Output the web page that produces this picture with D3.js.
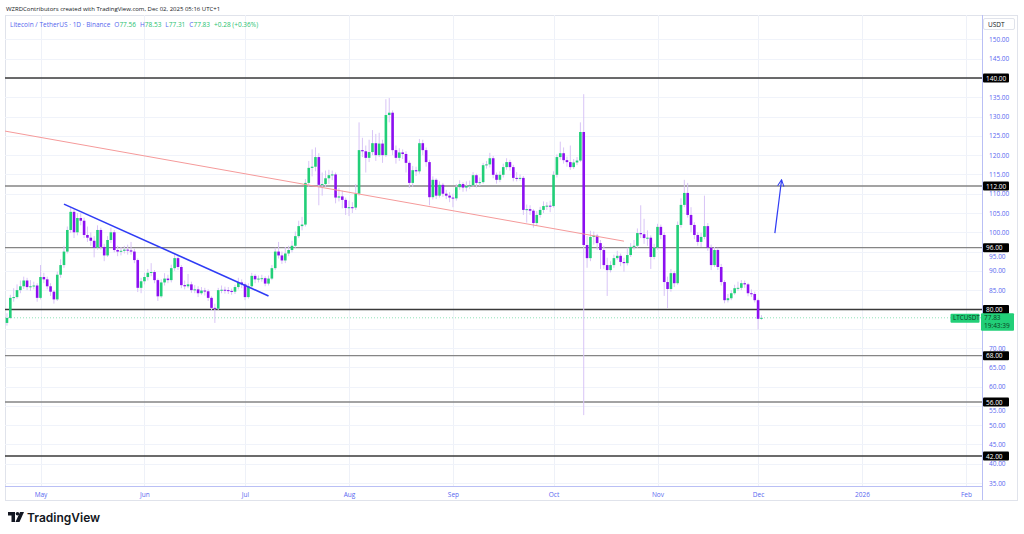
<!DOCTYPE html>
<html>
<head>
<meta charset="utf-8">
<script src="https://cdn.jsdelivr.net/npm/d3@7"></script>
<style>
  html, body { margin: 0; padding: 0; background: #fff; }
  svg { display: block; font-family: "Open Sans", "Noto Sans", sans-serif; }
</style>
</head>
<body>
<script>
// daily candles LTC/USDT, first candle 2025-04-21, one per day
var firstDay = Date.UTC(2025, 3, 21);
var firstOpen = 76.5;

var closes = [
  77.8, 83, 83.2, 85, 86, 87.5, 85.8, 86, 86.2, 83,
  88.4, 87.8, 86, 84.6, 82.6, 89, 91.5, 95, 100.6, 105.3,
  100, 103.7, 103, 99.3, 98.6, 97.8, 96, 100.6, 96.2, 94,
  98, 100, 95.4, 95, 95.2, 95.5, 95.3, 95, 92.8, 85.6,
  87.3, 88.4, 89.5, 89.7, 87.6, 83.4, 87, 88, 87.6, 90.7,
  93.3, 91, 86.3, 86, 86.5, 85, 85.2, 84.2, 84.9, 84.7,
  83, 80.4, 80.2, 85, 85.1, 85, 84.8, 84.6, 85.8, 87,
  86.5, 83.2, 86, 88.7, 87.8, 88, 88.1, 86.7, 88, 90.7,
  95, 94, 92.7, 94.5, 95.4, 96.5, 99, 101.6, 102, 112.8,
  116.7, 117, 119.5, 112.3, 112.5, 114, 114.8, 115, 109, 109.3,
  108.4, 106.3, 106.5, 106.4, 110, 121.3, 121, 119.3, 120.8, 123.1,
  120, 123, 120, 130.4, 131, 121.3, 119.3, 120.7, 120.3, 118,
  112.8, 116.1, 115.8, 123.1, 121.3, 118.2, 109.1, 113.6, 109.5, 112.3,
  110, 109.5, 109, 108.8, 111.7, 112.5, 111.6, 112, 112.2, 114.8,
  112.8, 113, 117.4, 117.6, 119.2, 114.9, 113.6, 114.9, 116.9, 118.2,
  116.9, 114.1, 114, 114.1, 105.8, 106, 105.6, 102.4, 104.5, 105.8,
  106.8, 106.9, 106.8, 114.9, 119.5, 120.5, 118.7, 118.2, 116.9, 118.1,
  118.6, 126, 96.7, 93.3, 98.8, 99.1, 97.2, 95.4, 91.5, 90.2,
  91.5, 93.3, 93.9, 92.3, 92, 94.1, 96.2, 96.5, 99.8, 99.5,
  98.5, 98.6, 93.6, 96, 101.4, 99.3, 87.1, 85.3, 89.4, 86.8,
  101.9, 107.1, 110.2, 104.5, 101.9, 99.3, 97.5, 98.8, 101.6, 96,
  91.5, 95.4, 91, 87.1, 82.4, 82.9, 84.2, 85.5, 85.6, 86.8,
  86.5, 84.2, 84, 82.4, 77.56, 77.83
];

var highs = [
  79, 83.8, 85.5, 86.5, 87.5, 88.5, 88.2, 87.6, 87.2, 86.8,
  91.5, 89.5, 88.5, 86.8, 85, 89.8, 93, 96.5, 101.5, 106.5,
  106, 105, 105, 103.8, 101.5, 100, 99, 101.8, 101.2, 97,
  99, 101.2, 100.6, 96.5, 96.2, 96.5, 96.8, 97.5, 95.8, 93.2,
  88.2, 89.5, 90.5, 92, 90.2, 88, 87.8, 89.4, 89, 91.6,
  94.5, 93.8, 91.5, 87.5, 89.2, 87.2, 86.3, 86, 85.8, 85.6,
  85.2, 83.4, 81.5, 85.6, 86.2, 85.9, 85.8, 85.4, 86.4, 88.2,
  87.8, 87, 86.8, 89.5, 89.2, 88.8, 89, 88.6, 88.8, 91.5,
  96, 97.5, 95, 96.2, 96.5, 97.8, 100.2, 103, 104, 113.8,
  118.5, 121.5, 122, 120.5, 115.5, 116, 116.2, 116, 115.5, 111.5,
  110.8, 109, 108.2, 107.8, 112.5, 128.5, 124.5, 122.5, 124, 126.5,
  125.5, 125.8, 124, 134.5, 134.8, 131.6, 122.5, 121.8, 121.5, 121,
  118.6, 117.2, 117, 124.2, 124, 122, 118.8, 114.5, 114, 113.2,
  112.8, 111, 110.4, 110, 112.5, 113.5, 113, 113.2, 113.4, 115.6,
  115.2, 114.2, 118, 118.5, 120.6, 119.8, 115.5, 115.8, 117.8, 119.2,
  118.8, 117.5, 115.6, 115, 114.6, 107.2, 107, 106, 105.5, 106.6,
  108, 107.8, 108.2, 115.8, 120.2, 123.5, 122, 119.6, 122.5, 119,
  119.5, 128.5, 135.8, 99, 100.4, 100.2, 99.6, 98, 96.5, 93.4,
  92.5, 94.2, 95.2, 94.5, 93.4, 96, 97.2, 98, 101, 107,
  103.5, 100.5, 99.2, 97, 102.2, 102, 100, 88.5, 90.5, 90,
  102.8, 108.8, 113.6, 112.8, 106.5, 102.6, 100, 99.8, 109.5, 102.4,
  96.8, 96.2, 96, 91.8, 87.6, 84, 85, 86.4, 87.2, 87.6,
  87.5, 86.9, 85.2, 84.6, 82.8, 78.53
];

var lows = [
  75.8, 77.5, 82, 82.8, 84.2, 85.3, 85, 84.8, 85.2, 82,
  82.6, 86.8, 85.2, 83.5, 81.5, 82.2, 88.2, 90.8, 94.5, 99.8,
  98.5, 99.2, 101.8, 98.5, 97.5, 96.5, 93.5, 95.5, 95.5, 92.5,
  93.6, 97.2, 94.8, 93.8, 94, 94.5, 94.2, 94.2, 92, 84.5,
  84.2, 86.5, 87.5, 88.6, 86.8, 82.2, 83, 86.2, 86.8, 87,
  90, 90.2, 85.5, 85.2, 85.5, 84.3, 84.2, 83.2, 83.8, 83.6,
  82.2, 79.6, 76.5, 79.8, 84.2, 84.1, 84, 83.8, 84, 85.2,
  85.5, 82.4, 82.8, 85.5, 86.8, 87, 87.2, 86, 86.2, 87.6,
  90.2, 93.2, 91.8, 92, 93.8, 94.8, 96, 98.5, 100.5, 101.5,
  111.8, 114.5, 115.8, 107, 109.5, 111.8, 112.5, 113.5, 107.5, 108,
  106.2, 104.5, 104.2, 105, 105.8, 109.5, 119.5, 115.5, 118.2, 120,
  118.5, 119.5, 118, 119.5, 128.5, 120, 117.8, 118.5, 119, 115.5,
  111.5, 111.8, 114.6, 115.2, 120, 117, 107, 108.5, 108.6, 109,
  109.2, 108.6, 107.8, 106.5, 108.2, 111, 110.5, 110.6, 111.2, 111.8,
  111.6, 112, 112.6, 116.5, 116.8, 114, 112.6, 113, 114.2, 116.2,
  116, 113.2, 113.2, 113.4, 104.5, 102.5, 104.5, 101.2, 101.8, 103.8,
  105, 105.8, 105.2, 106.4, 114.2, 118.8, 117.8, 117, 116.2, 116.4,
  117.4, 118.2, 52.6, 90.8, 92.5, 96.8, 95.5, 90.5, 90.5, 83.5,
  89.6, 90.8, 92.8, 91.2, 89.8, 91.4, 93.6, 95.5, 96, 98.5,
  97, 96.5, 90.5, 93, 95.5, 98.2, 83.5, 80.3, 84.6, 85.8,
  86.4, 101.2, 106.5, 103.8, 100, 98.2, 96.5, 96.2, 98.2, 95.2,
  90.2, 91, 90.2, 86.2, 81.6, 81.8, 82.4, 83.8, 84.8, 85,
  85.6, 83.4, 83.2, 81.8, 74.8, 77.31
];

// tick labels (140, 80 and 75 sit under the tags on the axis)
var priceTicks = d3.range(35, 151, 5);
var shownTicks = [150, 145, 135, 130, 125, 120, 115, 110, 105, 100, 95, 90, 85,
                  70, 65, 60, 55, 50, 45, 40, 35];
var nudgedTicks = [95, 55];
var levels = [140, 112, 96, 80, 68, 56, 42];
var strongLevels = [140, 80, 42];
var lastPrice = 77.83;

// drawn lines (date, price)
var blueLine = [[Date.UTC(2025, 4, 8), 107.3], [Date.UTC(2025, 6, 8), 83.5]];
var redLine = [[Date.UTC(2025, 3, 20), 126.3], [Date.UTC(2025, 9, 22), 97.7]];
var arrowLine = [[Date.UTC(2025, 11, 6), 99.8], [Date.UTC(2025, 11, 8), 113.6]];

var width = 1024, height = 534;
var plotL = 5, plotR = 982, plotT = 15, plotB = 486;

var svg = d3.select('body').append('svg')
  .attr('width', width).attr('height', height);

var x = d3.scaleUtc()
  .domain([Date.UTC(2025, 4, 1), Date.UTC(2026, 1, 1)])
  .range([40.5, 966]);

var y = d3.scaleLinear()
  .domain([42, 140])
  .range([456, 78]);

var data = closes.map(function(c, i) {
  return {
    date: d3.utcDay.offset(new Date(firstDay), i),
    open: i === 0 ? firstOpen : closes[i - 1],
    close: c, high: highs[i], low: lows[i]
  };
});

// outer frame
svg.append('rect')
  .attr('x', plotL + 0.5).attr('y', plotT + 0.5)
  .attr('width', 1017 - plotL).attr('height', 500 - plotT)
  .attr('fill', 'none').attr('stroke', '#e0e3eb');

svg.append('defs').append('clipPath').attr('id', 'clip')
  .append('rect').attr('x', plotL).attr('y', plotT)
  .attr('width', plotR - plotL).attr('height', plotB - plotT);

var plot = svg.append('g').attr('clip-path', 'url(#clip)');

// grid
var months = d3.utcMonth.range(new Date(Date.UTC(2025, 3, 15)), new Date(Date.UTC(2026, 1, 15)));
plot.selectAll('.vgrid').data(months).enter().append('line')
  .attr('x1', function(d) { return Math.round(x(d)) + 0.5; })
  .attr('x2', function(d) { return Math.round(x(d)) + 0.5; })
  .attr('y1', plotT).attr('y2', plotB)
  .attr('stroke', '#eef1f8');
plot.selectAll('.hgrid').data(priceTicks).enter().append('line')
  .attr('x1', plotL).attr('x2', plotR)
  .attr('y1', function(d) { return Math.round(y(d)) + 0.5; })
  .attr('y2', function(d) { return Math.round(y(d)) + 0.5; })
  .attr('stroke', '#f0f3fa');

// horizontal levels
plot.selectAll('.lvl').data(levels).enter().append('line')
  .attr('x1', plotL).attr('x2', plotR)
  .attr('y1', function(d) { return y(d); })
  .attr('y2', function(d) { return y(d); })
  .attr('stroke', function(d) { return strongLevels.indexOf(d) >= 0 ? '#3a3a3a' : '#858585'; })
  .attr('stroke-width', function(d) { return strongLevels.indexOf(d) >= 0 ? 1.5 : 1.3; });

// last price dotted line
plot.append('line')
  .attr('x1', plotL).attr('x2', plotR)
  .attr('y1', y(lastPrice)).attr('y2', y(lastPrice))
  .attr('stroke', '#8fe3b8').attr('stroke-dasharray', '1,2');

var bull = '#22cf78', bear = '#8c0ff0';

// wicks
plot.selectAll('.wick').data(data).enter().append('line')
  .attr('x1', function(d) { return x(d.date); })
  .attr('x2', function(d) { return x(d.date); })
  .attr('y1', function(d) { return y(d.high); })
  .attr('y2', function(d) { return y(d.low); })
  .attr('stroke', '#d8c4f6').attr('stroke-width', 1);

// bodies
plot.selectAll('.body').data(data).enter().append('rect')
  .attr('x', function(d) { return x(d.date) - 1.3; })
  .attr('width', 2.6)
  .attr('y', function(d) { return y(Math.max(d.open, d.close)); })
  .attr('height', function(d) { return Math.max(1, Math.abs(y(d.open) - y(d.close))); })
  .attr('fill', function(d) { return d.close >= d.open ? bull : bear; });

// trend lines
var lineGen = d3.line()
  .x(function(d) { return x(new Date(d[0])); })
  .y(function(d) { return y(d[1]); });

plot.append('path').attr('d', lineGen(redLine))
  .attr('fill', 'none').attr('stroke', '#f59a9a').attr('stroke-width', 1);
plot.append('path').attr('d', lineGen(blueLine))
  .attr('fill', 'none').attr('stroke', '#2f3cf5').attr('stroke-width', 1.6);

// arrow
svg.append('defs').append('marker').attr('id', 'arrow')
  .attr('viewBox', '0 0 10 10').attr('refX', 9).attr('refY', 5)
  .attr('markerWidth', 8).attr('markerHeight', 8).attr('orient', 'auto')
  .attr('markerUnits', 'userSpaceOnUse')
  .append('path').attr('d', 'M1,1 L9,5 L1,9')
  .attr('fill', 'none').attr('stroke', '#2f3cf5').attr('stroke-width', 1.3);
plot.append('path').attr('d', lineGen(arrowLine))
  .attr('fill', 'none').attr('stroke', '#2f3cf5').attr('stroke-width', 1.2)
  .attr('marker-end', 'url(#arrow)');

// right price axis
svg.append('line').attr('x1', plotR + 0.5).attr('x2', plotR + 0.5)
  .attr('y1', plotT).attr('y2', 500).attr('stroke', '#b9bff5');

var yAxis = svg.append('g').attr('transform', 'translate(' + plotR + ',0)')
  .call(d3.axisRight(y).tickValues(shownTicks).tickSize(0).tickPadding(7)
    .tickFormat(d3.format('.2f')));
yAxis.select('.domain').remove();
yAxis.selectAll('text').attr('fill', '#5868f0').attr('font-size', 6.5)
  .attr('font-family', '"Open Sans", sans-serif');
// ticks half hidden by a tag in the original: push them just below it
yAxis.selectAll('.tick').filter(function(d) { return nudgedTicks.indexOf(d) >= 0; })
  .select('text').attr('dy', '1.05em');

svg.append('rect').attr('x', 983.5).attr('y', 18.5).attr('width', 31).attr('height', 11)
  .attr('fill', '#fff').attr('stroke', '#e0e3eb').attr('rx', 1.5);
svg.append('text').attr('x', 988).attr('y', 26.5).text('USDT')
  .attr('font-size', 6.5).attr('fill', '#131722');

// level tags
var tags = svg.selectAll('.tag').data(levels).enter().append('g')
  .attr('transform', function(d) { return 'translate(983,' + y(d) + ')'; });
tags.append('rect').attr('x', 0).attr('y', -4.5).attr('width', 26).attr('height', 9)
  .attr('fill', '#000').attr('rx', 1);
tags.append('text').attr('x', 3).attr('y', 2.5)
  .text(function(d) { return d3.format('.2f')(d); })
  .attr('fill', '#fff').attr('font-size', 6.5);

// last price tag
var py = y(lastPrice);
svg.append('rect').attr('x', 981).attr('y', py - 4.5).attr('width', 33).attr('height', 17.5)
  .attr('fill', '#22cf78').attr('rx', 1);
svg.append('text').attr('x', 984).attr('y', py + 2.5).text(d3.format('.2f')(lastPrice))
  .attr('fill', '#0b3d22').attr('font-size', 6.5);
svg.append('text').attr('x', 984).attr('y', py + 10.5).text('19:43:39')
  .attr('fill', '#0b3d22').attr('font-size', 6.5);
svg.append('rect').attr('x', 950.5).attr('y', py - 4).attr('width', 29).attr('height', 9)
  .attr('fill', '#22cf78').attr('rx', 1);
svg.append('text').attr('x', 953).attr('y', py + 2.5).text('LTCUSDT')
  .attr('fill', '#0b3d22').attr('font-size', 6.3);

// time axis
svg.append('line').attr('x1', plotL).attr('x2', plotR)
  .attr('y1', plotB + 0.5).attr('y2', plotB + 0.5).attr('stroke', '#b9bff5');
var xAxis = svg.append('g').attr('transform', 'translate(0,' + plotB + ')')
  .call(d3.axisBottom(x).tickValues(months).tickSize(0).tickPadding(6)
    .tickFormat(function(d) { return d.getUTCMonth() === 0 ? '2026' : d3.utcFormat('%b')(d); }));
xAxis.select('.domain').remove();
xAxis.selectAll('text').attr('fill', '#5868f0').attr('font-size', 6.5)
  .attr('font-family', '"Open Sans", sans-serif');

// header texts
svg.append('text').attr('x', 6).attr('y', 10.5)
  .text('WZRDContributors created with TradingView.com, Dec 02, 2025 05:16 UTC+1')
  .attr('font-size', 6).attr('fill', '#131722');

var legend = svg.append('text').attr('x', 10).attr('y', 26.5).attr('font-size', 6.5);
legend.append('tspan').text('Litecoin / TetherUS · 1D · Binance').attr('fill', '#5565ee');
[['O', '77.56'], ['H', '78.53'], ['L', '77.31'], ['C', '77.83']].forEach(function(p) {
  legend.append('tspan').attr('dx', 4).text(p[0]).attr('fill', '#5565ee');
  legend.append('tspan').text(p[1]).attr('fill', '#1fbf70');
});
legend.append('tspan').attr('dx', 4).text('+0.28 (+0.36%)').attr('fill', '#1fbf70');

// TradingView logo
var logo = svg.append('g').attr('transform', 'translate(8,512)');
logo.append('path').attr('d', 'M0,0 H7 V10 H3.5 V3.5 H0 Z').attr('fill', '#131722');
logo.append('circle').attr('cx', 9.5).attr('cy', 1.8).attr('r', 1.8).attr('fill', '#131722');
logo.append('path').attr('d', 'M12,0 H16 L11.5,10 H7.5 Z').attr('fill', '#131722');
svg.append('text').attr('x', 27).attr('y', 522).text('TradingView')
  .attr('font-size', 12).attr('font-weight', 600).attr('fill', '#131722')
  .attr('font-family', 'Inter, "Open Sans", sans-serif');
</script>
</body>
</html>
